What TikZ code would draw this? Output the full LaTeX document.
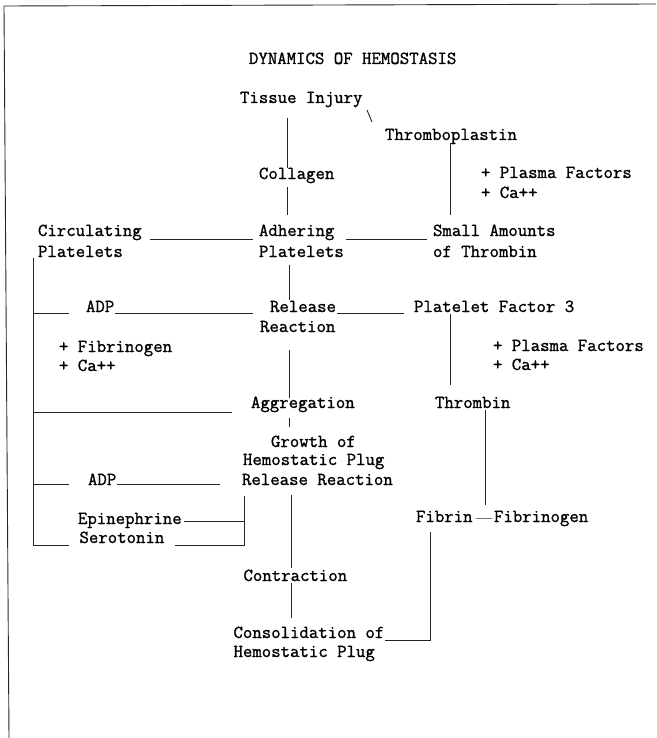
\documentclass[tikz,border=0pt]{standalone}
\usepackage{fontspec}
\newfontfamily\typewr{Latin Modern Mono}[FakeBold=1.2]
\begin{document}
\begin{tikzpicture}[x=1pt,y=-1pt,
  lbl/.style={anchor=base west, inner sep=0pt, outer sep=0pt, font=\typewr\fontsize{18.3}{20}\selectfont, text=black},
  conn/.style={draw=black!85, line width=0.9pt},
  thinconn/.style={draw=black!55, line width=0.7pt}]
\useasboundingbox (0,0) rectangle (656,738);
% frame
\coordinate (fbl) at (9,738);
\coordinate (ftl) at (4,6);
\coordinate (ftr) at (656,4);
\draw[conn] (fbl) -- (ftl) -- (ftr);

% texts
\node[lbl] (title) at (249,64) {DYNAMICS OF HEMOSTASIS};
\node[lbl] (tissue) at (240,103) {Tissue Injury};
\node[lbl] (thrombo) at (385,140) {Thromboplastin};
\node[lbl] (collagen) at (259,179) {Collagen};
\node[lbl] (pfa) at (481,178) {+ Plasma Factors};
\node[lbl] (caa) at (481,198) {+ Ca++};
\node[lbl] (circ) at (38,236) {Circulating};
\node[lbl] (circp) at (38,257) {Platelets};
\node[lbl] (adh) at (259,236) {Adhering};
\node[lbl] (adhp) at (259,257) {Platelets};
\node[lbl] (small) at (433,236) {Small Amounts};
\node[lbl] (smallb) at (433,257) {of Thrombin};
\node[lbl] (adpa) at (86,312) {ADP};
\node[lbl] (rel) at (270,312) {Release};
\node[lbl] (relr) at (260,332) {Reaction};
\node[lbl] (pf3) at (414,312) {Platelet Factor 3};
\node[lbl] (fib) at (59,352) {+ Fibrinogen};
\node[lbl] (cab) at (59,371) {+ Ca++};
\node[lbl] (pfb) at (493,351) {+ Plasma Factors};
\node[lbl] (cac) at (493,370) {+ Ca++};
\node[lbl] (aggr) at (251,408) {Aggregation};
\node[lbl] (thr) at (435,408) {Thrombin};
\node[lbl] (growth) at (271,447) {Growth of};
\node[lbl] (hemo) at (243,465) {Hemostatic Plug};
\node[lbl] (relrb) at (242,485) {Release Reaction};
\node[lbl] (adpb) at (88,485) {ADP};
\node[lbl] (epi) at (78,524) {Epinephrine};
\node[lbl] (sero) at (79.5,543) {Serotonin};
\node[lbl] (fibrin) at (416,522) {Fibrin};
\node[lbl] (fibrinogen) at (494,522) {Fibrinogen};
\node[lbl] (contr) at (243.5,581) {Contraction};
\node[lbl] (cons) at (233.5,638) {Consolidation of};
\node[lbl] (consb) at (233.5,657) {Hemostatic Plug};

% junction coordinates
\coordinate (bsA) at (367,110);
\coordinate (bsB) at (372,122);
\coordinate (cTa) at (287,118);
\coordinate (cTb) at (287,168);
\coordinate (cTc) at (287,187);
\coordinate (cTd) at (287,215);
\coordinate (thA) at (450,143);
\coordinate (thB) at (450,215);
\coordinate (ciA) at (150,239);
\coordinate (ciB) at (253,239);
\coordinate (adA) at (346,239);
\coordinate (adB) at (427,239);
\coordinate (lvT) at (33.5,258);
\coordinate (lvB) at (33.5,545);
\coordinate (apA) at (289,265);
\coordinate (apB) at (289,300);
\coordinate (r1a) at (33.5,313);
\coordinate (r1b) at (69,313);
\coordinate (r1c) at (115,313);
\coordinate (r1d) at (253,313);
\coordinate (r1e) at (337,313);
\coordinate (r1f) at (404,313);
\coordinate (rrA) at (289,350);
\coordinate (rrB) at (289,398);
\coordinate (pfA) at (450,314);
\coordinate (pfB) at (450,385);
\coordinate (agA) at (33.5,412);
\coordinate (agB) at (232,412);
\coordinate (agC) at (289,418);
\coordinate (agD) at (289,427);
\coordinate (tbA) at (485,410);
\coordinate (tbB) at (485,505);
\coordinate (r2a) at (33.5,484);
\coordinate (r2b) at (69,484);
\coordinate (r2c) at (117,484);
\coordinate (r2d) at (220,484);
\coordinate (brT) at (244,496);
\coordinate (brM) at (244,521);
\coordinate (brB) at (244,545);
\coordinate (epE) at (184,521);
\coordinate (seE) at (175,545);
\coordinate (seL) at (69,545);
\coordinate (ctA) at (291,495);
\coordinate (ctB) at (291,568);
\coordinate (ctC) at (291,583);
\coordinate (ctD) at (291,618);
\coordinate (ffA) at (476,518);
\coordinate (ffB) at (492,518);
\coordinate (fdA) at (430,532);
\coordinate (fdB) at (430,640);
\coordinate (fdC) at (385,640);

% connectors
\draw[conn] (bsA) -- (bsB);
\draw[conn] (cTa) -- (cTb);
\draw[conn] (cTc) -- (cTd);
\draw[conn] (thA) -- (thB);
\draw[conn] (ciA) -- (ciB);
\draw[conn] (adA) -- (adB);
\draw[conn] (lvT) -- (lvB) -- (seL);
\draw[conn] (apA) -- (apB);
\draw[conn] (r1a) -- (r1b);
\draw[conn] (r1c) -- (r1d);
\draw[conn] (r1e) -- (r1f);
\draw[conn] (rrA) -- (rrB);
\draw[conn] (pfA) -- (pfB);
\draw[conn] (agA) -- (agB);
\draw[conn] (agC) -- (agD);
\draw[conn] (tbA) -- (tbB);
\draw[conn] (r2a) -- (r2b);
\draw[conn] (r2c) -- (r2d);
\draw[conn] (brT) -- (brB) -- (seE);
\draw[conn] (epE) -- (brM);
\draw[conn] (ctA) -- (ctB);
\draw[conn] (ctC) -- (ctD);
\draw[thinconn] (ffA) -- (ffB);
\draw[conn] (fdA) -- (fdB) -- (fdC);
\end{tikzpicture}
\end{document}
